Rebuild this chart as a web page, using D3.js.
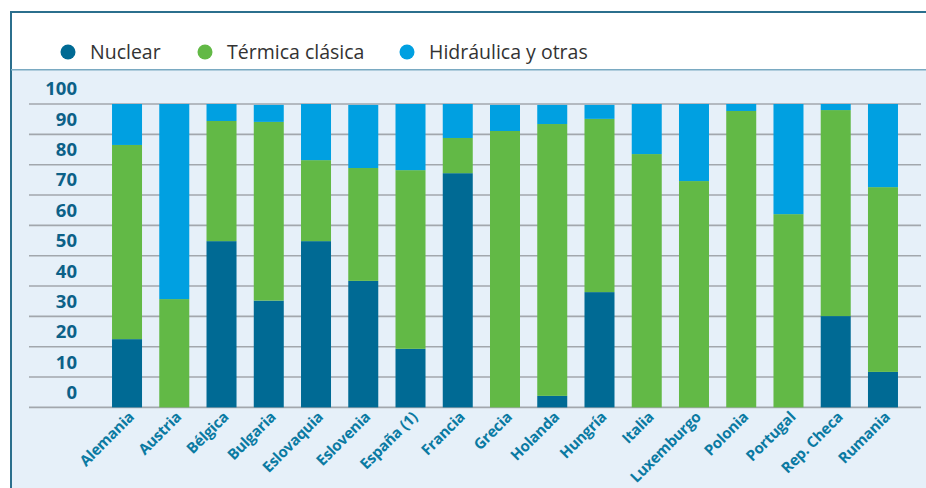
<!DOCTYPE html>
<html lang="es">
<head>
  <meta charset="utf-8">
  <script src="https://d3js.org/d3.v7.min.js"></script>
  <style>
    body { margin: 0; background: #fff; }
    svg { display: block; font-family: "Open Sans", sans-serif; }
  </style>
</head>
<body>
  <div id="chart"></div>
  <script>
    // datos (% de la producción eléctrica por país)
    var paises = ["Alemania", "Austria", "Bélgica", "Bulgaria", "Eslovaquia", "Eslovenia",
      "España (1)", "Francia", "Grecia", "Holanda", "Hungría", "Italia", "Luxemburgo",
      "Polonia", "Portugal", "Rep. Checa", "Rumania"];
    var nuclear    = [22.5, 0, 54.8, 35.2, 54.8, 41.7, 19.3, 77.2, 0, 3.8, 38.0, 0, 0, 0, 0, 30.1, 11.7];
    var termica    = [64.0, 35.7, 39.6, 58.9, 26.7, 37.2, 58.9, 11.6, 91.1, 89.6, 57.1, 83.5, 74.6, 97.7, 63.7, 67.9, 60.9];
    var hidraulica = [13.5, 64.3, 5.6, 5.6, 18.5, 20.8, 21.8, 11.2, 8.6, 6.3, 4.6, 16.5, 25.4, 2.3, 36.3, 2.0, 27.4];
    var series = ["Nuclear", "Térmica clásica", "Hidráulica y otras"];
    var yTicks = [0, 10, 20, 30, 40, 50, 60, 70, 80, 90, 100];

    var colores = ["#006a94", "#62b946", "#00a0e1"];

    var width = 926, height = 488;

    var svg = d3.select('#chart').append('svg')
      .attr('width', width)
      .attr('height', height);

    // fondo del gráfico
    svg.append('rect')
      .attr('x', 11).attr('y', 70)
      .attr('width', width - 11).attr('height', height - 70)
      .attr('fill', '#e6f0f9');

    // marco
    svg.append('line')
      .attr('x1', 10).attr('x2', width).attr('y1', 12).attr('y2', 12)
      .attr('stroke', '#2b6f8d').attr('stroke-width', 2);
    svg.append('line')
      .attr('x1', 11).attr('x2', 11).attr('y1', 11).attr('y2', height)
      .attr('stroke', '#2b6f8d').attr('stroke-width', 2);
    svg.append('line')
      .attr('x1', 11).attr('x2', width).attr('y1', 69.8).attr('y2', 69.8)
      .attr('stroke', '#7aaac2').attr('stroke-width', 1.5);

    // leyenda
    var legendX = [68, 205, 407];
    var legend = svg.selectAll('.legend')
      .data(series)
      .enter().append('g')
      .attr('class', 'legend')
      .attr('transform', function (d, i) { return 'translate(' + legendX[i] + ',52)'; });

    legend.append('circle')
      .attr('r', 7.5)
      .attr('fill', function (d, i) { return colores[i]; });

    legend.append('text')
      .attr('x', 22)
      .attr('dy', '0.35em')
      .attr('font-size', 19.5)
      .attr('fill', '#333')
      .text(function (d) { return d; });

    // escalas
    var x = d3.scaleBand()
      .domain(paises)
      .range([103.4, 906.6])
      .paddingInner(0.365)
      .paddingOuter(0.1825);

    var y = d3.scaleLinear()
      .domain([0, 100])
      .range([407.4, 104]);

    // rejilla
    svg.append('g').selectAll('line')
      .data(yTicks)
      .enter().append('line')
      .attr('x1', 29).attr('x2', 921)
      .attr('y1', function (d) { return y(d); })
      .attr('y2', function (d) { return y(d); })
      .attr('stroke', '#a2a7ad')
      .attr('stroke-width', 1.6);

    // etiquetas eje y (entre líneas)
    svg.append('g').selectAll('text')
      .data(yTicks)
      .enter().append('text')
      .attr('x', 77)
      .attr('y', function (d) { return y(d) - 15; })
      .attr('dy', '0.35em')
      .attr('text-anchor', 'end')
      .attr('font-size', 18.5)
      .attr('font-weight', 'bold')
      .attr('fill', '#0c6188')
      .text(function (d) { return d; });

    // barras apiladas
    var tabla = paises.map(function (p, i) {
      return { pais: p, "Nuclear": nuclear[i], "Térmica clásica": termica[i], "Hidráulica y otras": hidraulica[i] };
    });
    var stack = d3.stack().keys(series);

    svg.append('g').selectAll('g')
      .data(stack(tabla))
      .enter().append('g')
      .attr('fill', function (d, i) { return colores[i]; })
      .selectAll('rect')
      .data(function (d) { return d; })
      .enter().append('rect')
      .attr('x', function (d) { return x(d.data.pais); })
      .attr('y', function (d) { return y(d[1]); })
      .attr('width', x.bandwidth())
      .attr('height', function (d) { return y(d[0]) - y(d[1]); });

    // etiquetas eje x
    svg.append('g').selectAll('text')
      .data(paises)
      .enter().append('text')
      .attr('text-anchor', 'end')
      .attr('font-size', 15)
      .attr('font-weight', 'bold')
      .attr('letter-spacing', -0.2)
      .attr('fill', '#0a7aa2')
      .attr('transform', function (d) {
        var cx = x(d) + x.bandwidth() / 2 + 8;
        return 'translate(' + cx + ',418) rotate(-45)';
      })
      .text(function (d) { return d; });
  </script>
</body>
</html>
